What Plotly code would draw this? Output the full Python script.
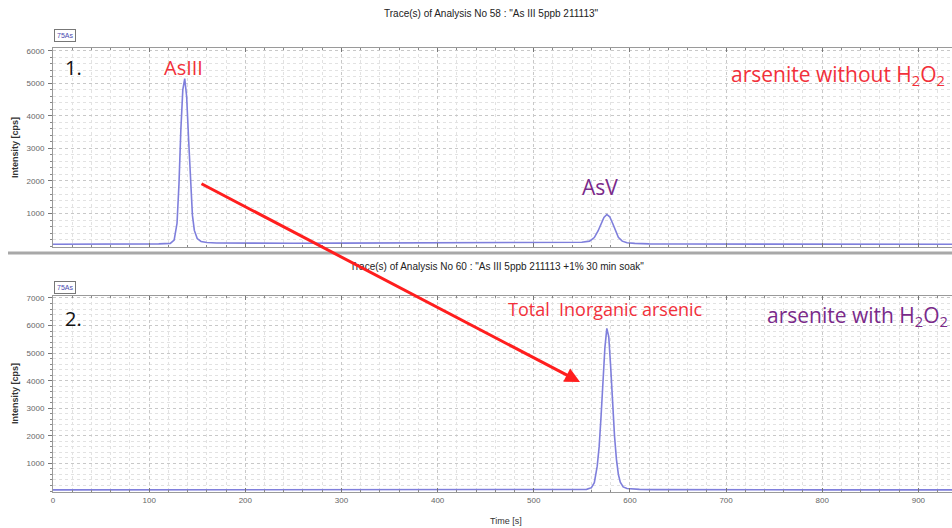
import plotly.graph_objects as go

W, H = 952, 528

# ---- data ----
time_top = [0, 40, 80, 110, 122, 126, 129, 131, 133, 135, 137, 139, 141, 143, 145, 147, 150, 154, 160, 170,
            185, 200, 250, 300, 350, 400, 450, 500, 530, 550, 558, 563, 567, 570, 573, 576, 579, 582, 585, 588,
            592, 597, 605, 620, 650, 700, 800, 935]
cps_top = [55, 55, 60, 65, 80, 180, 700, 1900, 3600, 4800, 5150, 4600, 3300, 1900, 950, 480, 230, 140, 110, 95,
           90, 88, 85, 90, 92, 95, 98, 100, 105, 115, 150, 260, 470, 680, 880, 970, 900, 700, 460, 270,
           150, 100, 80, 65, 60, 58, 55, 55]

time_bot = [0, 100, 200, 300, 400, 500, 540, 555, 560, 563, 566, 568, 570, 572, 574, 576, 578, 580, 582, 584,
            586, 588, 590, 593, 597, 602, 610, 625, 650, 700, 800, 935]
cps_bot = [40, 40, 40, 40, 40, 42, 45, 60, 120, 300, 900, 1600, 2700, 4000, 5200, 5900, 5600, 4500, 3200, 2000,
           1150, 600, 320, 150, 90, 70, 60, 50, 45, 42, 40, 40]

x_ticks = [0, 100, 200, 300, 400, 500, 600, 700, 800, 900]
y_ticks_top = [1000, 2000, 3000, 4000, 5000, 6000]
y_ticks_bot = [1000, 2000, 3000, 4000, 5000, 6000, 7000]

title_top = 'Trace(s) of Analysis No 58 : "As III 5ppb 211113"'
title_bot = 'Trace(s) of Analysis No 60 : "As III 5ppb 211113 +1% 30 min soak"'

# ---- helpers for pixel layout ----
def px(x):
    return x / W

def py(y):
    return 1 - y / H

line_col = "#7f7fdc"
tick_font = dict(family="Liberation Sans", size=8, color="#666666")
grid_major = "#c8c8c8"
grid_minor = "#e2e2e2"

fig = go.Figure()
fig.add_trace(go.Scatter(x=time_top, y=cps_top, mode="lines", line=dict(color=line_col, width=1.6),
                         xaxis="x", yaxis="y", showlegend=False, hoverinfo="skip"))
fig.add_trace(go.Scatter(x=time_bot, y=cps_bot, mode="lines", line=dict(color=line_col, width=1.6),
                         xaxis="x2", yaxis="y2", showlegend=False, hoverinfo="skip"))

xcommon = dict(range=[0, 935], domain=[px(53), 1], showline=True, linecolor="#9a9a9a", linewidth=1,
               mirror="ticks", ticks="inside", ticklen=4, tickcolor="#777777",
               showgrid=True, gridcolor=grid_major, griddash="dot", gridwidth=1,
               minor=dict(dtick=20, ticks="inside", ticklen=2, tickcolor="#888888",
                          showgrid=True, gridcolor=grid_minor, griddash="dot"),
               zeroline=False, automargin=False, tickvals=x_ticks, tickfont=tick_font)
ycommon = dict(showline=True, linecolor="#9a9a9a", linewidth=1, mirror="ticks",
               ticks="outside", ticklen=4, tickcolor="#777777",
               showgrid=True, gridcolor=grid_major, griddash="dot", gridwidth=1,
               minor=dict(dtick=200, ticks="outside", ticklen=2, tickcolor="#888888",
                          showgrid=True, gridcolor=grid_minor, griddash="dot"),
               zeroline=False, automargin=False, tickfont=tick_font, ticklabelstandoff=2)

fig.update_layout(
    width=W, height=H, margin=dict(l=0, r=0, t=0, b=0),
    paper_bgcolor="white", plot_bgcolor="white",
    xaxis=dict(xcommon, anchor="y", showticklabels=False),
    yaxis=dict(ycommon, anchor="x", domain=[py(247), py(48)], range=[-30, 6090],
               tickvals=y_ticks_top),
    xaxis2=dict(xcommon, anchor="y2"),
    yaxis2=dict(ycommon, anchor="x2", domain=[py(492), py(296)], range=[-36, 7072],
                tickvals=y_ticks_bot),
)

ann = []
def text(x, y, s, size, color, family="Open Sans", **kw):
    ann.append(dict(x=px(x), y=py(y), xref="paper", yref="paper", text=s, showarrow=False,
                    xanchor="center", yanchor="middle",
                    font=dict(family=family, size=size, color=color), **kw))

# titles
text(491, 14, title_top, 10, "#222222", family="Liberation Sans")
text(497, 266, title_bot, 10, "#222222", family="Liberation Sans")
# axis titles
text(15, 148, "<b>Intensity [cps]</b>", 9, "#333333", family="Liberation Sans", textangle=-90)
text(15, 394, "<b>Intensity [cps]</b>", 9, "#333333", family="Liberation Sans", textangle=-90)
text(506, 521, "Time [s]", 9, "#333333", family="Liberation Sans")
# 75As boxes
for yb in (36, 287):
    ann.append(dict(x=px(65), y=py(yb), xref="paper", yref="paper", text="75As", showarrow=False,
                    xanchor="center", yanchor="middle",
                    font=dict(family="Liberation Sans", size=7, color="#4a4ab0"),
                    bordercolor="#777777", borderwidth=1, borderpad=2, bgcolor="white"))
# panel labels
text(73, 67, "1.", 20, "#111111")
text(73, 318, "2.", 20, "#111111")
text(183, 67, "AsIII", 20, "#f2303a")
text(838, 75, "arsenite without H<sub>2</sub>O<sub>2</sub>", 21, "#f2303a")
text(600, 187, "AsV", 21, "#7a2a8a")
text(605, 309, "Total  Inorganic arsenic", 18, "#f2303a")
text(857, 316, "arsenite with H<sub>2</sub>O<sub>2</sub>", 21, "#7a2a8a")

# red arrow (head in bottom panel)
ann.append(dict(x=px(580), y=py(382), xref="paper", yref="paper", ax=200 - 580, ay=183 - 382,
                text="", showarrow=True, arrowhead=2, arrowsize=1, arrowwidth=3, arrowcolor="#ff1e1e"))

fig.update_layout(annotations=ann)

# grey separator between panels
fig.add_shape(type="line", xref="paper", yref="paper", x0=px(8), x1=1, y0=py(253), y1=py(253),
              line=dict(color="#a8a8a8", width=3))

fig.write_html("out.html")
